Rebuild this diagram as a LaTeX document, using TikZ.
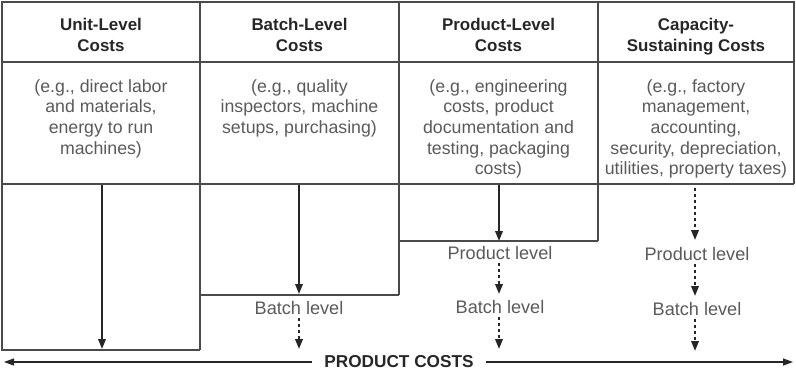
\documentclass[tikz,border=0pt]{standalone}
\usepackage{fontspec}
\setmainfont{Liberation Sans}
\usetikzlibrary{arrows.meta}
\definecolor{linegray}{HTML}{4A4A4A}
\definecolor{headtext}{HTML}{262626}
\definecolor{bodytext}{HTML}{5A5A5A}
\tikzset{
  frame/.style={draw=linegray, line width=1.3bp},
  heavy/.style={draw=linegray, line width=2.2bp},
  headnode/.style={anchor=north, inner sep=0pt, align=center, text=headtext,
    font=\fontsize{17}{20.5}\selectfont\bfseries},
  descnode/.style={anchor=north, inner sep=0pt, align=center, text=bodytext,
    font=\fontsize{17.8}{20.8}\selectfont},
  levelnode/.style={anchor=base, inner sep=0pt, text=bodytext,
    font=\fontsize{18.2}{20.8}\selectfont},
  solidarrow/.style={draw=headtext, line width=1.8bp, -{Triangle[length=10bp,width=7.5bp]}},
  dotarrow/.style={draw=headtext, line width=2bp, dash pattern=on 3bp off 3bp,
    -{Triangle[length=10bp,width=7.5bp,sep=0bp]}},
  longarrow/.style={draw=headtext, line width=1.2bp, -{Triangle[length=10bp,width=7bp]}}
}
\begin{document}
\begin{tikzpicture}[x=1bp,y=-1bp]
\useasboundingbox (0,0) rectangle (796,371);
% table frame
\draw[frame] (2,184) -- (2,2) -- (794,2) -- (794,184);
\draw[frame] (2,62) -- (794,62);
\draw[heavy] (2,184) -- (794,184);
% dividers and lower step boxes
\draw[frame] (200,2) -- (200,350);
\draw[frame] (399,2) -- (399,295);
\draw[frame] (598,2) -- (598,241);
\draw[frame] (2,184) -- (2,350) -- (200,350);
\draw[frame] (200,295) -- (399,295);
\draw[frame] (399,241) -- (598,241);
% headers
\node[headnode] (h1) at (101,18.5) {Unit-Level\\Costs};
\node[headnode] (h2) at (299.5,18.5) {Batch-Level\\Costs};
\node[headnode] (h3) at (498.5,18.5) {Product-Level\\Costs};
\node[headnode] (h4) at (696,18.5) {Capacity-\\Sustaining Costs};
% descriptions
\node[descnode] (d1) at (101,79) {(e.g., direct labor\\and materials,\\energy to run\\machines)};
\node[descnode] (d2) at (299.5,79) {(e.g., quality\\inspectors, machine\\setups, purchasing)};
\node[descnode] (d3) at (498.5,79) {(e.g., engineering\\costs, product\\documentation and\\testing, packaging\\costs)};
\node[descnode] (d4) at (696,79) {(e.g., factory\\management,\\accounting,\\security, depreciation,\\utilities, property taxes)};
% level labels
\node[levelnode] (b2) at (299,314) {Batch level};
\node[levelnode] (p3) at (500,259) {Product level};
\node[levelnode] (b3) at (500,313) {Batch level};
\node[levelnode] (p4) at (697,260) {Product level};
\node[levelnode] (b4) at (697,315) {Batch level};
% coordinates
\coordinate (s1) at (102,185);
\coordinate (e1) at (102,349);
\coordinate (s2) at (299,185);
\coordinate (e2) at (299,294);
\coordinate (e2b) at (299,349);
\coordinate (s3) at (499,185);
\coordinate (e3) at (499,241);
\coordinate (e3b) at (499,294);
\coordinate (e3c) at (499,349);
\coordinate (s4) at (695,188);
\coordinate (e4) at (695,240);
\coordinate (e4b) at (695,296);
\coordinate (e4c) at (695,351);
% arrows
\draw[solidarrow] (s1) -- (e1);
\draw[solidarrow] (s2) -- (e2);
\draw[dotarrow] (b2.south -| e2b) ++(0,4) -- (e2b);
\draw[solidarrow] (s3) -- (e3);
\draw[dotarrow] (p3.south -| e3b) ++(0,4) -- (e3b);
\draw[dotarrow] (b3.south -| e3c) ++(0,4) -- (e3c);
\draw[dotarrow] (s4) -- (e4);
\draw[dotarrow] (p4.south -| e4b) ++(0,4) -- (e4b);
\draw[dotarrow] (b4.south -| e4c) ++(0,4) -- (e4c);
% product costs
\node[inner sep=0pt, text=headtext, font=\fontsize{17.3}{20}\selectfont\bfseries] (pc) at (399,362) {PRODUCT COSTS};
\coordinate (leftend) at (4,362);
\coordinate (rightend) at (793,362);
\draw[longarrow] ([xshift=-12bp]pc.west) -- (leftend);
\draw[longarrow] ([xshift=12bp]pc.east) -- (rightend);
\end{tikzpicture}
\end{document}
